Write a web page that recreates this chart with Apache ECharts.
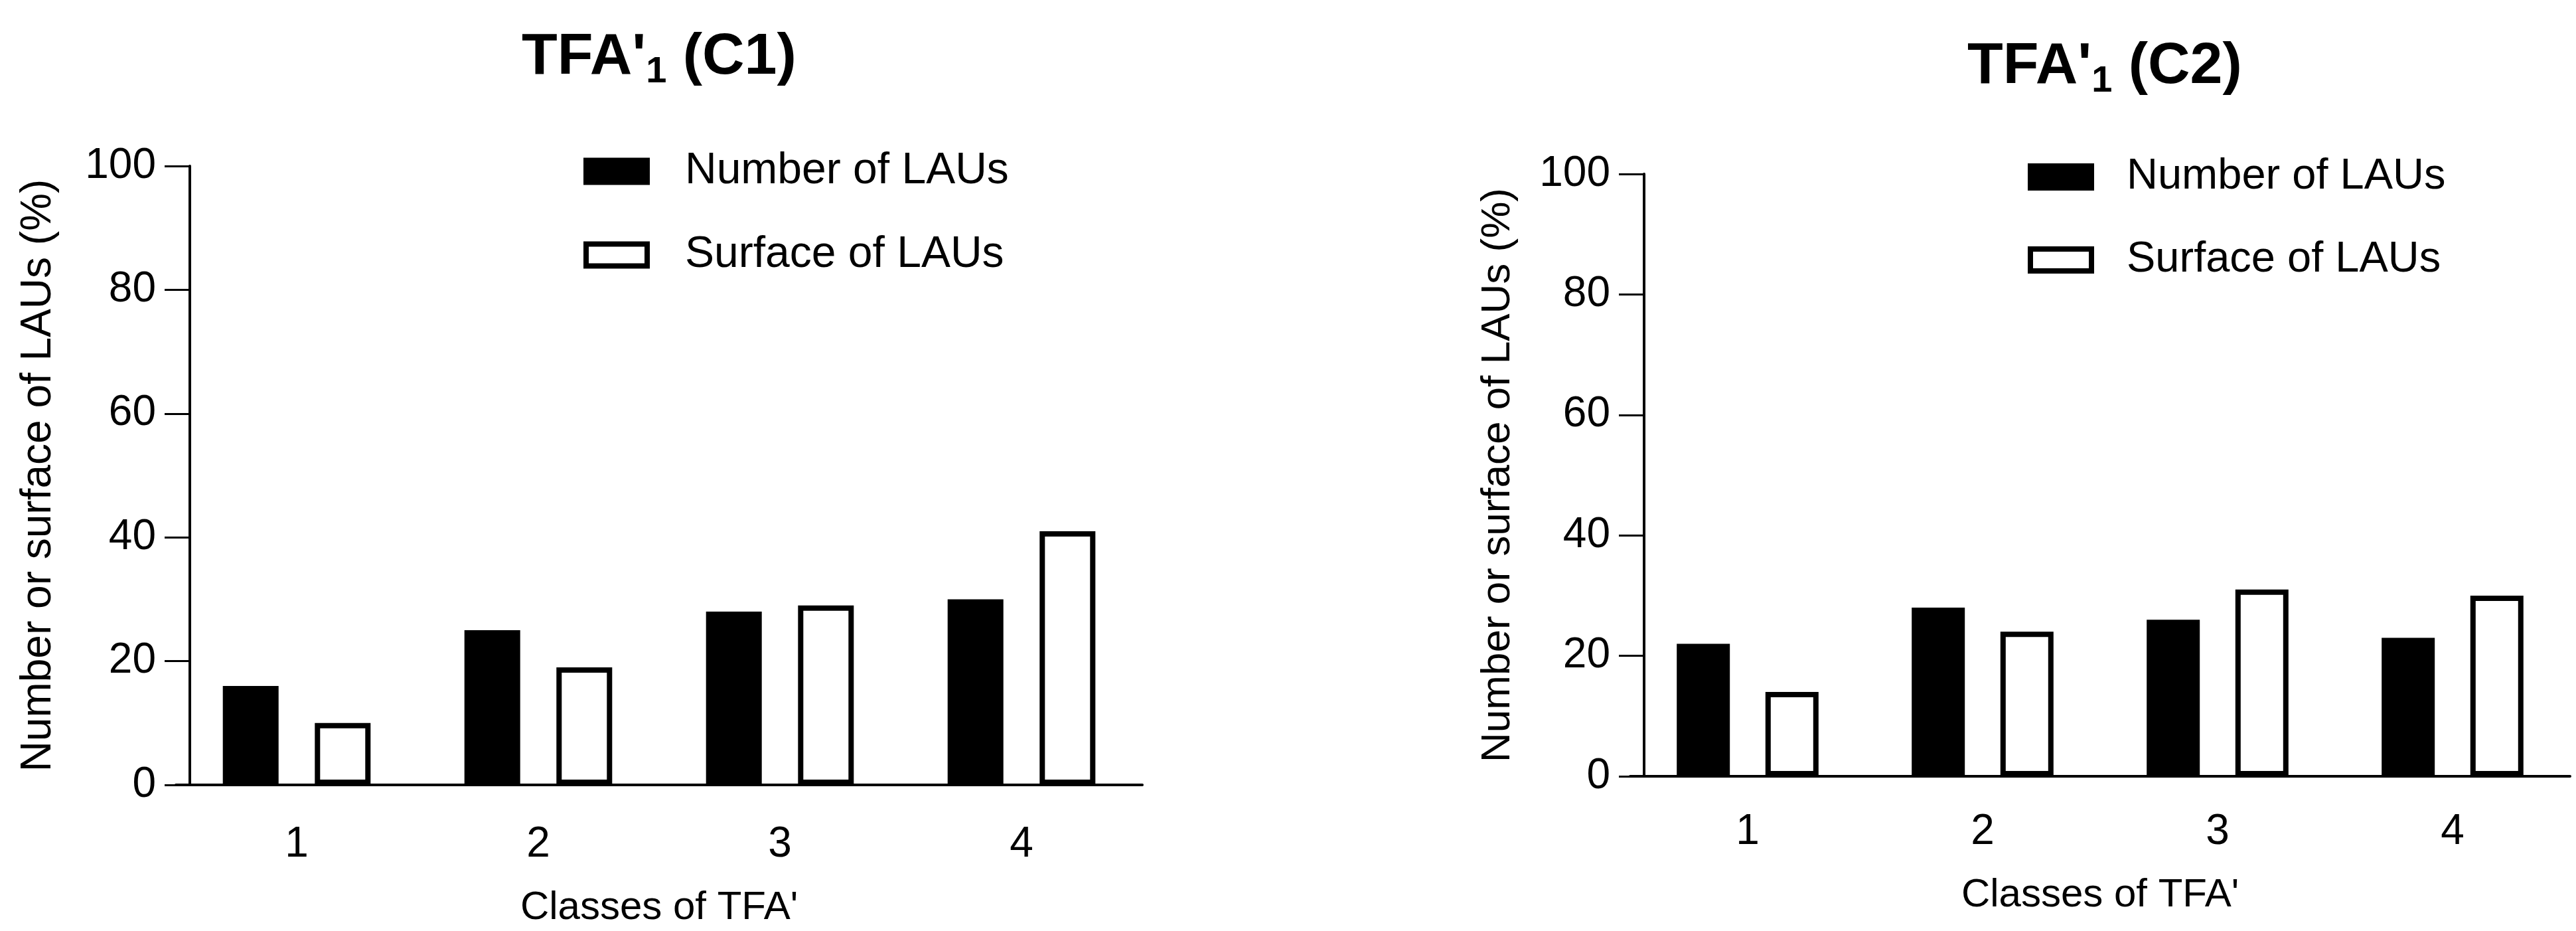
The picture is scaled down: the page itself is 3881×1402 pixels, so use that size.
<!DOCTYPE html>
<html>
<head>
<meta charset="utf-8">
<script src="https://cdn.jsdelivr.net/npm/echarts@6/dist/echarts.min.js"></script>
<style>
  html, body { margin: 0; padding: 0; background: #fff; }
  #main { width: 3881px; height: 1402px; }
</style>
</head>
<body>
<div id="main"></div>
<script>
// data
var classes = ['1', '2', '3', '4'];
var legendNames = ['Number of LAUs', 'Surface of LAUs'];
var numberC1 = [16, 25, 28, 30];
var surfaceC1 = [10, 19, 29, 41];
var numberC2 = [22, 28, 26, 23];
var surfaceC2 = [14, 24, 31, 30];
var yMin = 0, yMax = 100, yStep = 20;

var font = 'Liberation Sans, Arial, sans-serif';

var myChart = echarts.init(document.getElementById('main'));

// title with a subscript "1"
function titleRich() {
    return {
        a: { fontSize: 88, fontWeight: 'bold', lineHeight: 100, color: '#000', fontFamily: font },
        s: { fontSize: 56, fontWeight: 'bold', lineHeight: 40, verticalAlign: 'bottom', color: '#000', fontFamily: font }
    };
}

function xAxisOpt(gridIndex, labelMargin, nameGap) {
    return {
        type: 'category',
        gridIndex: gridIndex,
        data: classes,
        name: "Classes of TFA'",
        nameLocation: 'middle',
        nameGap: nameGap,
        nameTextStyle: { fontSize: 60, color: '#000', fontFamily: font },
        axisLine: { lineStyle: { color: '#000', width: 4 } },
        axisTick: { alignWithLabel: true, length: 38, lineStyle: { color: '#000', width: 3 } },
        axisLabel: { fontSize: 64, color: '#000', fontFamily: font, margin: labelMargin },
        splitLine: { show: false }
    };
}

function yAxisOpt(gridIndex, nameGap, nameSize) {
    return {
        type: 'value',
        gridIndex: gridIndex,
        min: yMin,
        max: yMax,
        interval: yStep,
        offset: -21,
        name: 'Number or surface of LAUs (%)',
        nameLocation: 'middle',
        nameGap: nameGap,
        nameTextStyle: { fontSize: nameSize, color: '#000', fontFamily: font },
        axisLine: { show: true, lineStyle: { color: '#000', width: 4 } },
        axisTick: { show: true, length: 38, lineStyle: { color: '#000', width: 3 } },
        axisLabel: { fontSize: 64, color: '#000', fontFamily: font, margin: 51 },
        splitLine: { show: false }
    };
}

function legendOpt(left, top, pad, size) {
    return {
        left: left,
        top: top,
        orient: 'vertical',
        padding: 0,
        itemWidth: 92,
        itemHeight: 33,
        itemGap: 60,
        icon: 'rect',
        data: legendNames,
        itemStyle: { borderWidth: 8, borderColor: '#000' },
        textStyle: { fontSize: size, color: '#000', fontFamily: font, padding: [0, 0, 0, pad] }
    };
}

function barSeries(name, data, idx, filled, barWidth, gap) {
    return {
        name: name,
        type: 'bar',
        xAxisIndex: idx,
        yAxisIndex: idx,
        data: data,
        barWidth: barWidth,
        barGap: gap,
        itemStyle: {
            color: filled ? '#000' : '#fff',
            borderColor: '#000',
            borderWidth: 8
        },
        emphasis: { disabled: true }
    };
}

var option = {
    backgroundColor: '#fff',
    animation: false,
    title: [
        { text: "{a|TFA'}{s|1}{a| (C1)}", left: 786, top: 37, padding: 0, textStyle: { rich: titleRich() } },
        { text: "{a|TFA'}{s|1}{a| (C2)}", left: 2964, top: 51, padding: 0, textStyle: { rich: titleRich() } }
    ],
    legend: [
        legendOpt(879, 225, 52, 66),
        legendOpt(3055, 234, 48, 65)
    ],
    grid: [
        { left: 265, top: 250, width: 1456, height: 932 },
        { left: 2456, top: 262, width: 1416, height: 907 }
    ],
    xAxis: [
        xAxisOpt(0, 58, 155),
        xAxisOpt(1, 52, 149)
    ],
    yAxis: [
        yAxisOpt(0, 196, 64),
        yAxisOpt(1, 189, 62)
    ],
    series: [
        barSeries(legendNames[0], numberC1, 0, true, 84, '65%'),
        barSeries(legendNames[1], surfaceC1, 0, false, 84, '65%'),
        barSeries(legendNames[0], numberC2, 1, true, 80, '67%'),
        barSeries(legendNames[1], surfaceC2, 1, false, 80, '67%')
    ]
};

myChart.setOption(option);
</script>
</body>
</html>
